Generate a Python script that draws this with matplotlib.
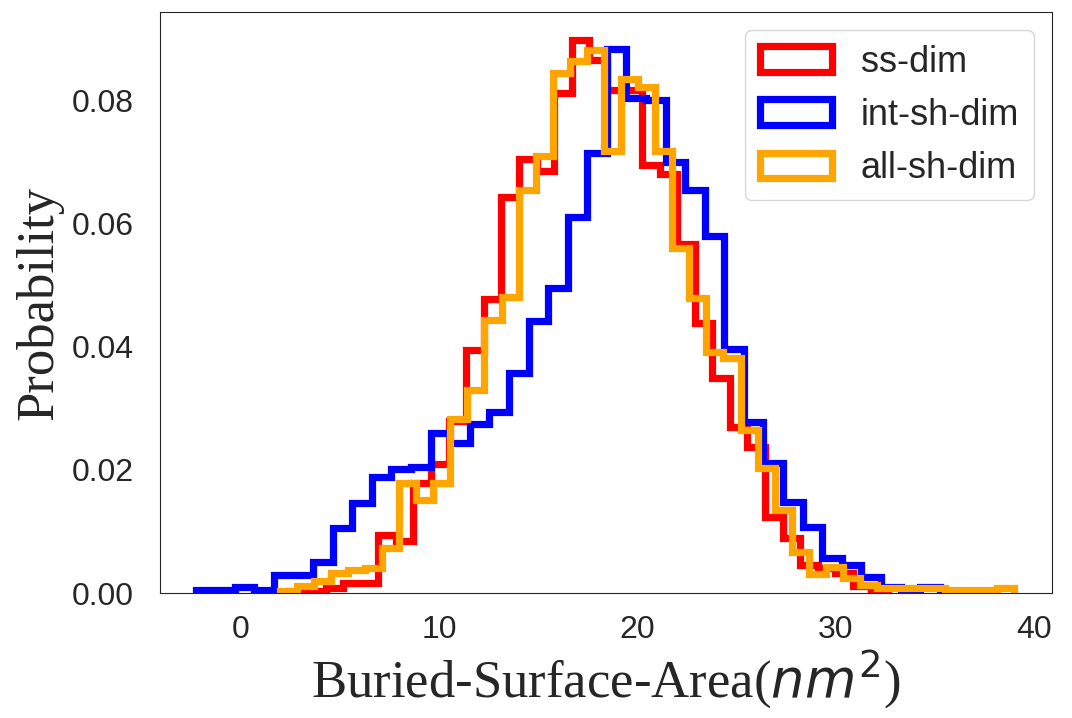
import numpy as np
import matplotlib
matplotlib.use('Agg')
import matplotlib.pyplot as plt
import seaborn as sns

# bin layout (start, width) and probability per bin
ss_start, ss_width = 2.509, 0.8866
ss_dim = [0.0003, 0.0003, 0.0008, 0.0016, 0.0016, 0.0094, 0.0084, 0.0178, 0.0210, 0.0280,
          0.0394, 0.0477, 0.0643, 0.0705, 0.0685, 0.0812, 0.0898, 0.0865, 0.0817, 0.0817,
          0.0695, 0.0680, 0.0567, 0.0438, 0.0349, 0.0270, 0.0237, 0.0123, 0.0089, 0.0045,
          0.0040, 0.0033, 0.0012, 0.0003]

int_start, int_width = -2.267, 0.9874
int_sh_dim = [0.0005, 0.0005, 0.0010, 0.0005, 0.0030, 0.0030, 0.0050, 0.0105, 0.0146, 0.0188,
              0.0201, 0.0204, 0.0260, 0.0243, 0.0274, 0.0294, 0.0358, 0.0441, 0.0496, 0.0610,
              0.0714, 0.0883, 0.0803, 0.0800, 0.0700, 0.0654, 0.0580, 0.0397, 0.0278, 0.0211,
              0.0148, 0.0107, 0.0057, 0.0045, 0.0026, 0.0010, 0.0005, 0.0010]

all_start, all_width = 1.965, 0.861
all_sh_dim = [0.0004, 0.0011, 0.0020, 0.0032, 0.0037, 0.0041, 0.0073, 0.0178, 0.0151, 0.0178,
              0.0282, 0.0329, 0.0443, 0.0480, 0.0654, 0.0710, 0.0845, 0.0863, 0.0881, 0.0717,
              0.0834, 0.0821, 0.0717, 0.0560, 0.0479, 0.0391, 0.0381, 0.0264, 0.0203, 0.0135,
              0.0067, 0.0031, 0.0042, 0.0024, 0.0013, 0.0008, 0.0008, 0.0008, 0.0008, 0.0005,
              0.0005, 0.0005, 0.0008]

labels = ['ss-dim', 'int-sh-dim', 'all-sh-dim']
colors = ['red', 'blue', 'orange']

sns.set_style('white')
plt.rcParams['font.family'] = ['Liberation Sans', 'DejaVu Sans']

fig = plt.figure(figsize=(10.72, 7.18), dpi=100)
ax = fig.add_axes([0.149, 0.174, 0.832, 0.809])

series = [(ss_start, ss_width, ss_dim),
          (int_start, int_width, int_sh_dim),
          (all_start, all_width, all_sh_dim)]
for (start, width, vals), lab, col in zip(series, labels, colors):
    vals = np.array(vals)
    edges = start + width * np.arange(len(vals) + 1)
    centers = edges[:-1] + width / 2
    ax.hist(centers, bins=edges, weights=vals, histtype='step',
            color=col, linewidth=5.2, label=lab)

ax.set_xlim(-4.08, 40.9)
ax.set_ylim(0, 0.0943)
ax.set_xticks([0, 10, 20, 30, 40])
ax.set_yticks([0.00, 0.02, 0.04, 0.06, 0.08])
ax.set_yticklabels(['0.00', '0.02', '0.04', '0.06', '0.08'])
ax.tick_params(labelsize=23, colors='0.15')
ax.tick_params(axis='x', pad=12)
ax.tick_params(axis='y', pad=15)

ax.set_xlabel('Buried-Surface-Area($nm^2$)', fontsize=38, family='Liberation Serif',
              labelpad=2)
ax.set_ylabel('Probability', fontsize=38, family='Liberation Serif', labelpad=6)

ax.legend(loc='upper right', fontsize=26)

fig.savefig('out.png', dpi=100)
